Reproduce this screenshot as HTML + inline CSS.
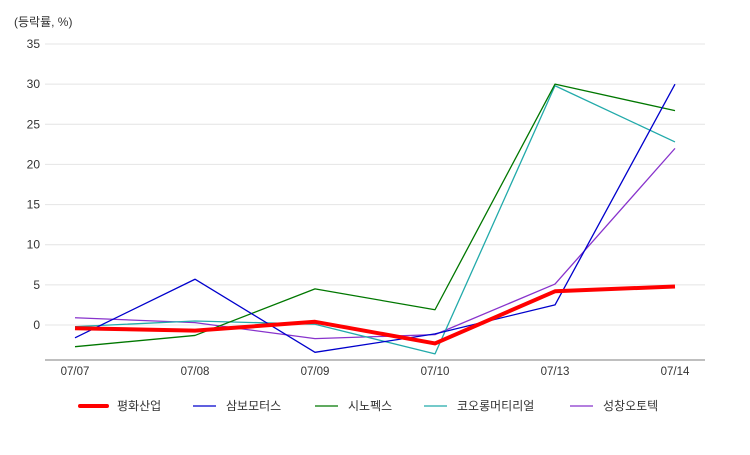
<!DOCTYPE html>
<html><head><meta charset="utf-8"><style>
body{margin:0;background:#fff;font-family:"Liberation Sans","Noto Sans CJK KR",sans-serif;}
svg text{font-family:"Liberation Sans","Noto Sans CJK KR",sans-serif;}
</style></head><body>
<svg id="chart" width="750" height="450" xmlns="http://www.w3.org/2000/svg">
<text x="14" y="26" font-size="12" fill="#333">(등락률, %)</text>
<g id="grid"></g><g id="lines"></g><g id="legend"></g>
</svg>
<script>
const categories=["07/07","07/08","07/09","07/10","07/13","07/14"];
const yTicks=[0,5,10,15,20,25,30,35];
const seriesNames=["평화산업","삼보모터스","시노펙스","코오롱머티리얼","성창오토텍"];
const s1=[-0.4,-0.7,0.4,-2.3,4.2,4.8];
const s2=[-1.6,5.7,-3.4,-1.1,2.5,30];
const s3=[-2.7,-1.3,4.5,1.9,30,26.7];
const s4=[-0.2,0.5,0.1,-3.6,29.8,22.8];
const s5=[0.9,0.3,-1.7,-1.2,5.1,22];
const colors=["#ff0000","#0000cc","#007700","#22aaaa","#8833cc"];
const widths=[4,1.3,1.3,1.3,1.3];
const legendX=[80,193,315,424,570];
const all=[s1,s2,s3,s4,s5];
const NS="http://www.w3.org/2000/svg";
const x=i=>75+i*120;
const y=v=>325-v*(281/35);
const grid=document.getElementById('grid');
function mk(t,a,p){const e=document.createElementNS(NS,t);for(const k in a)e.setAttribute(k,a[k]);p.appendChild(e);return e;}
yTicks.forEach(t=>{
 const l=mk('line',{x1:45,x2:705,y1:y(t),y2:y(t),stroke:'#e4e4e4'},grid);
 
 
 const tx=mk('text',{x:40,y:y(t)+4,'text-anchor':'end','font-size':12,fill:'#333'},grid);
 tx.textContent=t;
 
 
});
const ax=mk('line',{x1:45,x2:705,y1:360,y2:360,stroke:'#aaa','stroke-width':1.5},grid);


categories.forEach((c,i)=>{
 const tx=mk('text',{x:x(i),y:375,'text-anchor':'middle','font-size':11.5,fill:'#333'},grid);
 tx.textContent=c;
 
 
});
const lines=document.getElementById('lines');
for(let k=all.length-1;k>=0;k--){
 const p=mk('polyline',{points:all[k].map((v,i)=>x(i)+','+y(v)).join(' '),fill:'none',stroke:colors[k],'stroke-width':widths[k],'stroke-linejoin':'round'},lines);
 
 
}
const lg=document.getElementById('legend');
seriesNames.forEach((n,k)=>{
 const w=k===0?27:23;
 const l=mk('line',{x1:legendX[k],x2:legendX[k]+w,y1:406,y2:406,stroke:colors[k],'stroke-width':k===0?4:1.3,'stroke-linecap':k===0?'round':'butt'},lg);
 
 
 const t=mk('text',{x:legendX[k]+w+10,y:410,'font-size':12,fill:'#333'},lg);
 t.textContent=n;
 
 
});
</script>
</body></html>
